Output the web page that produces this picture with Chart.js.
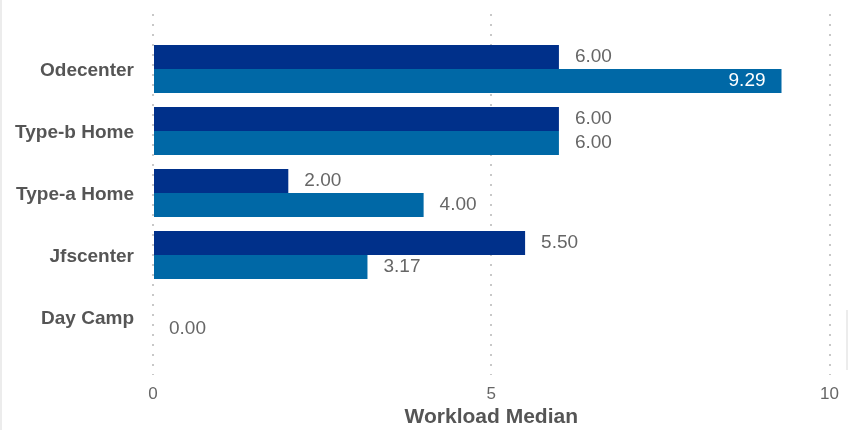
<!DOCTYPE html>
<html>
<head>
<meta charset="utf-8">
<script src="https://cdn.jsdelivr.net/npm/chart.js@4.4.1/dist/chart.umd.min.js"></script>
<style>
    body { margin: 0; background: #fff; }
    #wrap { position: relative; width: 848px; height: 430px; }
    .edge { position: absolute; background: #ececec; }
</style>
</head>
<body>
<div id="wrap">
    <canvas id="workloadChart" width="848" height="430"></canvas>
    <div class="edge" style="left:0;top:0;width:2px;height:430px"></div>
    <div class="edge" style="left:846px;top:310px;width:2px;height:60px"></div>
</div>
<script>
const categories = ['Odecenter', 'Type-b Home', 'Type-a Home', 'Jfscenter', 'Day Camp'];
const seriesA = [6.00, 6.00, 2.00, 5.50, null];
const seriesB = [9.29, 6.00, 4.00, 3.17, 0.00];
const xTicks = [0, 5, 10];

const FONT = "'Liberation Sans', Arial, Helvetica, sans-serif";

// value labels at the end of each bar (inside in white when there is no room)
const valueLabels = {
    id: 'valueLabels',
    afterDatasetsDraw(chart) {
        const ctx = chart.ctx;
        const area = chart.chartArea;
        ctx.save();
        ctx.font = `19px ${FONT}`;
        ctx.textBaseline = 'middle';
        chart.data.datasets.forEach((ds, di) => {
            const meta = chart.getDatasetMeta(di);
            meta.data.forEach((bar, i) => {
                const v = ds.data[i].x;
                if (v === null || v === undefined) return;
                const text = v.toFixed(2);
                const w = ctx.measureText(text).width;
                if (bar.x + 16 + w > area.right) {
                    ctx.fillStyle = '#ffffff';
                    ctx.textAlign = 'right';
                    ctx.fillText(text, bar.x - 16, bar.y);
                } else {
                    ctx.fillStyle = '#666666';
                    ctx.textAlign = 'left';
                    ctx.fillText(text, bar.x + 16, bar.y);
                }
            });
        });
        ctx.restore();
    }
};

const toPoints = (arr) => arr.map((v, i) => ({ x: v, y: i }));

new Chart(document.getElementById('workloadChart'), {
    type: 'bar',
    data: {
        datasets: [
            {
                label: 'A',
                data: toPoints(seriesA),
                backgroundColor: '#00308a'
            },
            {
                label: 'B',
                data: toPoints(seriesB),
                backgroundColor: '#0068a6'
            }
        ]
    },
    options: {
        indexAxis: 'y',
        responsive: false,
        animation: false,
        devicePixelRatio: 1,
        categoryPercentage: 0.774,
        barPercentage: 1,
        layout: { padding: { top: 14, right: 17, left: 0, bottom: 0 } },
        plugins: {
            legend: { display: false },
            tooltip: { enabled: false }
        },
        scales: {
            x: {
                type: 'linear',
                min: 0,
                max: 10,
                afterBuildTicks: (scale) => {
                    scale.ticks = xTicks.map(v => ({ value: v }));
                },
                grid: {
                    color: '#c8c8c8',
                    lineWidth: 2,
                    drawTicks: false
                },
                border: { display: false, dash: [2, 8] },
                ticks: {
                    padding: 9,
                    color: '#666666',
                    font: { family: FONT, size: 17 }
                },
                title: {
                    display: true,
                    text: 'Workload Median',
                    color: '#555555',
                    padding: { top: 0, bottom: 0 },
                    font: { family: FONT, size: 21, weight: 'bold' }
                },
                afterFit: (scale) => { scale.height = 55; }
            },
            y: {
                type: 'linear',
                reverse: true,
                offset: false,
                bounds: 'data',
                min: -0.887,
                max: 4.935,
                afterBuildTicks: (scale) => {
                    scale.ticks = categories.map((c, i) => ({ value: i }));
                },
                grid: { display: false, drawTicks: false },
                border: { display: false },
                ticks: {
                    autoSkip: false,
                    padding: 19,
                    labelOffset: 2,
                    color: '#555555',
                    font: { family: FONT, size: 19, weight: 'bold' },
                    callback: (v) => categories[v] || ''
                },
                afterFit: (scale) => {
                    scale.width = 153;
                    scale.paddingTop = 0;
                    scale.paddingBottom = 0;
                }
            }
        }
    },
    plugins: [valueLabels]
});
</script>
</body>
</html>
